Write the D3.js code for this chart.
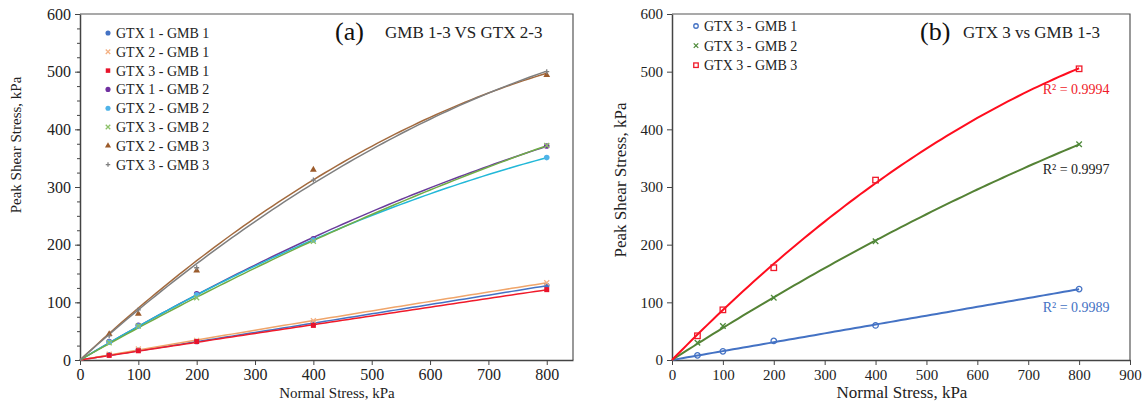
<!DOCTYPE html>
<html>
<head>
<meta charset="utf-8">
<script src="https://cdn.jsdelivr.net/npm/d3@7"></script>
<style>
  body { margin: 0; background: #fff; }
  svg { display: block; font-family: "Liberation Serif", "Times New Roman", serif; }
</style>
</head>
<body>
<svg id="chart" width="1143" height="409"></svg>
<script>
// normal stress levels (kPa)
const normalStress = [50, 100, 200, 400, 800];

// panel (a) series
const seriesA = ["GTX 1 - GMB 1", "GTX 2 - GMB 1", "GTX 3 - GMB 1", "GTX 1 - GMB 2",
                 "GTX 2 - GMB 2", "GTX 3 - GMB 2", "GTX 2 - GMB 3", "GTX 3 - GMB 3"];
const gtx1gmb1 = [9, 17, 32, 63, 129];
const gtx2gmb1 = [10, 19, 34, 68, 134];
const gtx3gmb1 = [8, 16, 32, 60, 122];
const gtx1gmb2 = [32, 60, 115, 210, 371];
const gtx2gmb2 = [31, 59, 113, 208, 351];
const gtx3gmb2 = [30, 59, 108, 206, 372];
const gtx2gmb3 = [45, 80, 155, 330, 494];
const gtx3gmb3 = [42, 87, 160, 312, 500];

// panel (b) series
const seriesB = ["GTX 3 - GMB 1", "GTX 3 - GMB 2", "GTX 3 - GMB 3"];
const bGmb1 = [8, 15, 33, 60, 123];
const bGmb2 = [30, 59, 108, 206, 374];
const bGmb3 = [42, 87, 160, 312, 505];
const rSquared = ["R² = 0.9989", "R² = 0.9997", "R² = 0.9994"];

const yTicks = [0, 100, 200, 300, 400, 500, 600];
const xTicksA = [0, 100, 200, 300, 400, 500, 600, 700, 800];
const xTicksB = [0, 100, 200, 300, 400, 500, 600, 700, 800, 900];

const svg = d3.select("#chart");

// quadratic trendline through origin: y = a*x + b*x^2 (least squares)
function fitQuad(xs, ys) {
  let s2 = 0, s3 = 0, s4 = 0, sxy = 0, sx2y = 0;
  xs.forEach((x, i) => {
    s2 += x * x; s3 += x * x * x; s4 += x * x * x * x;
    sxy += x * ys[i]; sx2y += x * x * ys[i];
  });
  const det = s2 * s4 - s3 * s3;
  const a = (sxy * s4 - sx2y * s3) / det;
  const b = (s2 * sx2y - s3 * sxy) / det;
  return x => a * x + b * x * x;
}

function marker(g, type, color, size) {
  const s = size || 5;
  if (type === "circle") {
    g.append("circle").attr("r", s / 2 + 0.3).attr("fill", color);
  } else if (type === "ocircle") {
    g.append("circle").attr("r", s / 2).attr("fill", "none").attr("stroke", color).attr("stroke-width", 1.3);
  } else if (type === "square") {
    g.append("rect").attr("x", -s / 2).attr("y", -s / 2).attr("width", s).attr("height", s).attr("fill", color);
  } else if (type === "osquare") {
    g.append("rect").attr("x", -s / 2).attr("y", -s / 2).attr("width", s).attr("height", s)
      .attr("fill", "none").attr("stroke", color).attr("stroke-width", 1.3);
  } else if (type === "x") {
    g.append("path").attr("d", `M${-s/2},${-s/2}L${s/2},${s/2}M${-s/2},${s/2}L${s/2},${-s/2}`)
      .attr("stroke", color).attr("stroke-width", 1.3);
  } else if (type === "plus") {
    g.append("path").attr("d", `M${-s/2},0L${s/2},0M0,${-s/2}L0,${s/2}`)
      .attr("stroke", color).attr("stroke-width", 1.3);
  } else if (type === "triangle") {
    g.append("path").attr("d", d3.symbol(d3.symbolTriangle, s * s * 0.8)()).attr("fill", color);
  }
}

function drawPanel(opt) {
  const x = d3.scaleLinear().domain(opt.xDomain).range(opt.xRange);
  const y = d3.scaleLinear().domain([0, 600]).range([360, 14]);
  const g = svg.append("g");

  // frame (top + right)
  g.append("path")
    .attr("d", `M${opt.xRange[0]},${y(600)}H${opt.xRange[1]}V${y(0)}`)
    .attr("fill", "none").attr("stroke", "#555").attr("stroke-width", 1.2);

  // minor y ticks
  if (opt.minor) {
    g.append("g").attr("transform", `translate(${opt.xRange[0]},0)`)
      .call(d3.axisLeft(y).tickValues(d3.range(0, 601, 25)).tickSize(3).tickFormat(""))
      .call(a => a.select(".domain").remove())
      .selectAll("line").attr("stroke", "#444");
  }

  const yAxis = g.append("g").attr("transform", `translate(${opt.xRange[0]},0)`)
    .call(d3.axisLeft(y).tickValues(yTicks).tickSize(5).tickPadding(4).tickSizeOuter(0));
  const xAxis = g.append("g").attr("transform", `translate(0,${y(0)})`)
    .call(d3.axisBottom(x).tickValues(opt.xTicks).tickSize(5).tickPadding(4).tickSizeOuter(0));
  [yAxis, xAxis].forEach(a => {
    a.attr("font-family", null).attr("font-size", null);
    a.select(".domain").attr("stroke", "#444").attr("stroke-width", 1.5);
    a.selectAll("line").attr("stroke", "#444");
    a.selectAll("text").attr("fill", "#222")
      .style("font-family", "'Liberation Serif', serif")
      .style("font-size", opt.tickFont + "px");
  });

  // axis titles
  g.append("text").attr("x", opt.xLabelX).attr("y", 398).attr("text-anchor", "middle")
    .attr("fill", "#222").style("font-size", opt.labelFont + "px").text("Normal Stress, kPa");
  g.append("text").attr("transform", `translate(${opt.yLabelX},${opt.yLabelY}) rotate(-90)`)
    .attr("text-anchor", "middle").attr("fill", "#222").style("font-size", opt.labelFont + "px")
    .text("Peak Shear Stress, kPa");

  // panel titles
  g.append("text").attr("x", opt.tagX).attr("y", 40).attr("fill", "#111")
    .style("font-size", "26px").text(opt.tag);
  g.append("text").attr("x", opt.titleX).attr("y", 38).attr("fill", "#222")
    .style("font-size", "17px").text(opt.title);

  // trend lines
  const xs = d3.range(0, 801, 10);
  opt.series.forEach(s => {
    const f = fitQuad(normalStress, s.values);
    g.append("path").datum(xs)
      .attr("d", d3.line().x(d => x(d)).y(d => y(f(d))))
      .attr("fill", "none").attr("stroke", s.line).attr("stroke-width", opt.lineWidth);
  });
  // markers
  opt.series.forEach(s => {
    s.values.forEach((v, i) => {
      const m = g.append("g").attr("transform", `translate(${x(normalStress[i])},${y(v)})`);
      marker(m, s.marker, s.color, opt.markerSize);
    });
  });

  // legend
  opt.series.forEach((s, i) => {
    const ly = opt.legendY + i * opt.legendStep;
    const m = g.append("g").attr("transform", `translate(${opt.legendX},${ly})`);
    marker(m, s.marker, s.color, 4.5);
    g.append("text").attr("x", opt.legendX + 8).attr("y", ly + 5).attr("fill", "#222")
      .style("font-size", opt.legendFont + "px").text(s.name);
  });

  return { x, y, g };
}

const styleA = [
  { marker: "circle", color: "#4472C4", line: "#4472C4" },
  { marker: "x", color: "#F4B183", line: "#F0A56A" },
  { marker: "square", color: "#E8132B", line: "#F01A2A" },
  { marker: "circle", color: "#7030A0", line: "#6A3C9C" },
  { marker: "circle", color: "#4FB3E8", line: "#22B8D8" },
  { marker: "x", color: "#8CC168", line: "#70AD47" },
  { marker: "triangle", color: "#9C5B2B", line: "#A36A3E" },
  { marker: "plus", color: "#808080", line: "#7F7F7F" }
];
const valsA = [gtx1gmb1, gtx2gmb1, gtx3gmb1, gtx1gmb2, gtx2gmb2, gtx3gmb2, gtx2gmb3, gtx3gmb3];

drawPanel({
  xDomain: [0, 845], xRange: [80, 573], xTicks: xTicksA, minor: true,
  tickFont: 16, labelFont: 15, xLabelX: 337, yLabelX: 21, yLabelY: 145,
  tag: "(a)", tagX: 335, title: "GMB 1-3 VS GTX 2-3", titleX: 385,
  lineWidth: 1.5, markerSize: 5,
  legendX: 108, legendY: 33, legendStep: 18.8, legendFont: 14,
  series: seriesA.map((n, i) => Object.assign({ name: n, values: valsA[i] }, styleA[i]))
});

const styleB = [
  { marker: "ocircle", color: "#4472C4", line: "#4472C4", label: "#4472C4" },
  { marker: "x", color: "#4E8A3A", line: "#548235", label: "#222" },
  { marker: "osquare", color: "#F01A2A", line: "#FF0D1E", label: "#F01A2A" }
];
const valsB = [bGmb1, bGmb2, bGmb3];

const pb = drawPanel({
  xDomain: [0, 900], xRange: [672, 1130], xTicks: xTicksB, minor: false,
  tickFont: 15, labelFont: 17, xLabelX: 902, yLabelX: 626, yLabelY: 180,
  tag: "(b)", tagX: 920, title: "GTX 3 vs GMB 1-3", titleX: 963,
  lineWidth: 2, markerSize: 5.5,
  legendX: 696, legendY: 26, legendStep: 19.6, legendFont: 14,
  series: seriesB.map((n, i) => Object.assign({ name: n, values: valsB[i] }, styleB[i]))
});

// R² labels placed under the end of each trendline
const rOffset = [22.5, 30, 25.5];
valsB.forEach((v, i) => {
  pb.g.append("text").attr("x", pb.x(800) - 3).attr("y", pb.y(v[4]) + rOffset[i])
    .attr("text-anchor", "middle").attr("fill", styleB[i].label)
    .style("font-size", "14px").text(rSquared[i]);
});
</script>
</body>
</html>
